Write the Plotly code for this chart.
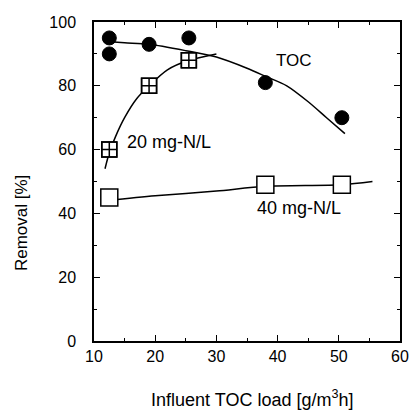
import plotly.graph_objects as go

# Measured points
toc_x = [12.5, 12.5, 19, 25.5, 38, 50.5]
toc_y = [95, 90, 93, 95, 81, 70]
n20_x = [12.5, 19, 25.5]
n20_y = [60, 80, 88]
n40_x = [12.5, 38, 50.5]
n40_y = [45, 49, 49]

# Fitted curves
toc_fit_x = [11.5, 15, 19, 25, 30, 35, 38, 41.5, 45, 48, 51]
toc_fit_y = [94, 93.5, 93, 91, 89, 85.5, 83, 80, 75, 70, 65]
n20_fit_x = [11.8, 12.5, 13.5, 15, 17, 19, 22, 25.5, 30]
n20_fit_y = [54, 59, 64, 70, 76, 80, 85, 88, 90]
n40_fit_x = [12, 20, 30, 38, 50.5, 55.5]
n40_fit_y = [44, 45.5, 47, 48.5, 49, 50]

FONT = "Liberation Sans, Arial, sans-serif"

fig = go.Figure()
line = dict(color="black", width=1.5, shape="spline", smoothing=0.8)
fig.add_trace(go.Scatter(x=toc_fit_x, y=toc_fit_y, mode="lines", line=line, showlegend=False))
fig.add_trace(go.Scatter(x=n20_fit_x, y=n20_fit_y, mode="lines", line=line, showlegend=False))
fig.add_trace(go.Scatter(x=n40_fit_x, y=n40_fit_y, mode="lines", line=line, showlegend=False))

fig.add_trace(go.Scatter(x=toc_x, y=toc_y, mode="markers", showlegend=False,
                         marker=dict(symbol="circle", size=14, color="black",
                                     line=dict(color="black", width=1))))
fig.add_trace(go.Scatter(x=n20_x, y=n20_y, mode="markers", showlegend=False,
                         marker=dict(symbol="square", size=15, color="white",
                                     line=dict(color="black", width=1.5))))
fig.add_trace(go.Scatter(x=n20_x, y=n20_y, mode="markers", showlegend=False,
                         marker=dict(symbol="square-cross-open", size=15, color="black",
                                     line=dict(color="black", width=1.5))))
fig.add_trace(go.Scatter(x=n40_x, y=n40_y, mode="markers", showlegend=False,
                         marker=dict(symbol="square", size=17, color="white",
                                     line=dict(color="black", width=1.5))))

axis_common = dict(showline=True, linecolor="black", linewidth=1.5, mirror="allticks",
                   ticks="inside", ticklen=6, tickwidth=1.2, tickcolor="black",
                   showgrid=False, zeroline=False, ticklabeloverflow="allow",
                   tickfont=dict(family=FONT, size=16, color="black"))
fig.update_xaxes(range=[10, 60], dtick=10, tick0=10,
                 minor=dict(ticks="inside", dtick=5, ticklen=3, tickcolor="black", showgrid=False),
                 **axis_common)
fig.update_yaxes(range=[0, 100], dtick=20, tick0=0, ticklabelstandoff=13,
                 minor=dict(ticks="inside", dtick=10, ticklen=3, tickcolor="black", showgrid=False),
                 **axis_common)

ann_font = dict(family=FONT, size=18, color="black")
fig.add_annotation(x=42.7, y=88, text="TOC", showarrow=False, font=dict(family=FONT, size=17, color="black"))
fig.add_annotation(x=22.3, y=62.4, text="20 mg-N/L", showarrow=False, font=ann_font)
fig.add_annotation(x=43.5, y=41.6, text="40 mg-N/L", showarrow=False, font=ann_font)

fig.add_annotation(xref="paper", yref="paper", x=-0.235, y=0.37, xanchor="center", yanchor="middle",
                   text="Removal [%]", textangle=-90, showarrow=False,
                   font=dict(family=FONT, size=17, color="black"))
fig.add_annotation(xref="paper", yref="paper", x=0.517, y=-0.18, xanchor="center", yanchor="middle",
                   text="Influent TOC load [g/m<sup>3</sup>h]", showarrow=False, font=ann_font)

fig.update_layout(width=418, height=414, margin=dict(l=94, r=9, t=22, b=73),
                  paper_bgcolor="white", plot_bgcolor="white")
fig.write_html("out.html", config={"displayModeBar": False},
               post_script="document.body.style.margin='0';document.body.style.overflow='hidden';")
